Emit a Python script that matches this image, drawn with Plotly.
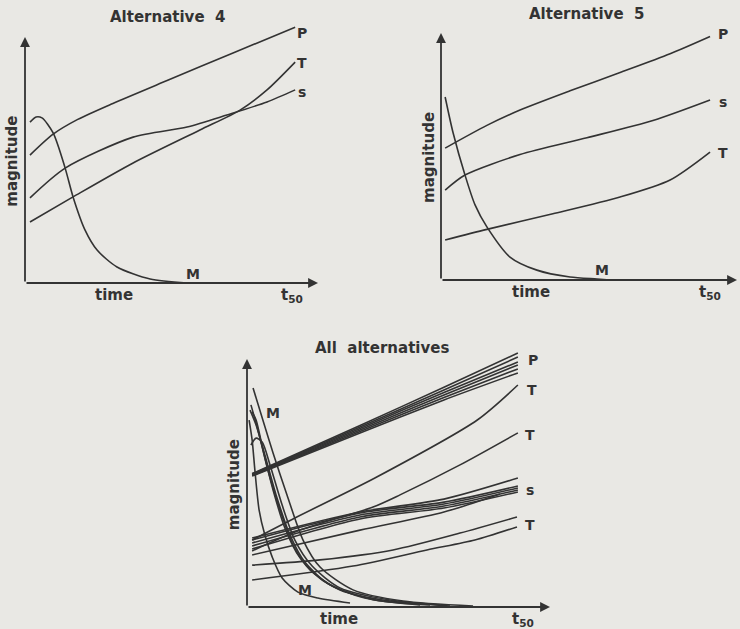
import plotly.graph_objects as go

W, H = 740, 629
INK = "#333333"
BG = "#e9e8e4"
FONT = "DejaVu Sans"

# ---- values (time on x, magnitude on y, arrow tips = 100) ----

# Alternative 4
alt4_P_x = [1.7, 9.6, 18.0, 30.0, 48.5, 71.0, 92.2]
alt4_P_y = [52.0, 60.5, 66.5, 73.0, 82.3, 93.5, 104.0]
alt4_s_x = [1.7, 13.7, 36.9, 55.3, 68.9, 82.6, 92.2]
alt4_s_y = [34.6, 46.7, 59.3, 63.4, 68.3, 73.6, 78.5]
alt4_T_x = [1.7, 16.4, 36.9, 59.7, 73.4, 82.6, 92.2]
alt4_T_y = [24.8, 35.0, 48.8, 62.2, 70.3, 78.5, 89.8]
alt4_M_x = [1.7, 3.8, 5.8, 9.6, 13.7, 16.4, 20.5, 24.6, 31.4, 42.7, 55.3]
alt4_M_y = [65.4, 67.5, 67.1, 61.0, 46.7, 35.0, 21.5, 13.4, 6.5, 1.6, 0.0]

# Alternative 5
alt5_P_x = [1.4, 15.5, 26.7, 43.6, 60.5, 77.4, 90.9]
alt5_P_y = [53.4, 62.6, 68.8, 76.6, 84.0, 91.6, 98.6]
alt5_s_x = [1.4, 8.1, 26.7, 49.3, 71.6, 90.9]
alt5_s_y = [36.4, 42.5, 50.8, 57.6, 64.6, 72.9]
alt5_T_x = [1.4, 15.5, 37.8, 60.5, 77.4, 90.9]
alt5_T_y = [16.2, 20.5, 26.8, 33.6, 40.5, 51.8]
alt5_M_x = [1.4, 4.1, 8.1, 11.5, 15.5, 23.3, 32.4, 43.6, 52.7, 57.1]
alt5_M_y = [74.1, 59.5, 42.5, 30.4, 21.5, 9.3, 4.0, 1.2, 0.4, 0.0]

# All alternatives
all_P_x = [1.7, 37.3, 65.0, 89.4]
all_P_y = [
    [53.8, 73.2, 88.6, 102.4],
    [53.6, 72.6, 87.5, 100.8],
    [53.4, 72.0, 86.5, 98.8],
    [53.2, 71.4, 85.5, 97.6],
    [53.0, 70.8, 84.5, 96.0],
    [52.8, 70.2, 83.5, 94.4],
]
all_s_x = [1.7, 37.3, 65.0, 89.4]
all_s_y = [
    [27.8, 38.3, 43.5, 52.0],
    [27.0, 37.9, 42.3, 48.8],
    [25.8, 37.1, 41.5, 48.0],
    [24.6, 36.3, 40.7, 47.2],
    [23.4, 35.5, 39.9, 46.4],
]
all_s_low_x = [1.7, 37.3, 65.0, 83.5]
all_s_low_y = [21.0, 31.0, 38.3, 45.6]
all_T1_x = [1.7, 15.8, 42.2, 76.0, 89.4]
all_T1_y = [27.0, 35.9, 52.0, 75.4, 89.5]
all_T2_x = [1.7, 17.5, 41.6, 50.5, 70.3, 89.4]
all_T2_y = [22.6, 31.0, 40.3, 45.2, 57.3, 70.2]
all_T3_x = [1.7, 24.1, 48.2, 70.3, 89.1]
all_T3_y = [16.9, 19.0, 23.0, 29.8, 36.3]
all_T4_x = [1.7, 35.0, 59.4, 75.2, 89.1]
all_T4_y = [10.9, 16.5, 23.0, 27.0, 32.3]
all_M = [
    ([2.0, 8.6, 13.2, 18.5, 24.1, 35.0, 51.5, 74.6],
     [88.3, 62.1, 45.2, 27.0, 16.1, 6.9, 2.4, 0.4]),
    ([1.3, 3.6, 6.9, 10.9, 15.2, 20.8, 30.7, 47.2, 67.0],
     [81.5, 71.4, 55.2, 39.1, 25.0, 14.9, 6.9, 2.4, 0.4]),
    ([1.0, 3.0, 5.9, 9.6, 14.2, 19.1, 27.4, 42.2, 60.4],
     [79.4, 73.4, 61.3, 45.2, 29.0, 18.1, 8.9, 2.8, 0.8]),
    ([1.3, 3.0, 5.0, 7.6, 11.6, 15.8, 21.5, 30.7, 47.2, 63.7],
     [65.3, 68.1, 66.5, 57.3, 41.1, 27.0, 16.5, 7.7, 2.8, 0.8]),
    ([1.7, 3.0, 5.3, 8.6, 12.5, 17.5, 25.7, 38.9, 57.1],
     [78.6, 75.4, 63.3, 47.2, 31.9, 19.8, 10.1, 3.6, 0.8]),
    ([0.7, 1.7, 2.6, 4.0, 5.9, 8.3, 11.6, 16.8, 23.4, 34.0],
     [75.4, 67.3, 55.2, 39.1, 29.0, 20.2, 11.7, 6.0, 3.6, 1.6]),
]

titles = ["Alternative\u00a0\u00a04", "Alternative\u00a0\u00a05", "All\u00a0\u00a0alternatives"]

curves = [
    [(alt4_P_x, alt4_P_y), (alt4_s_x, alt4_s_y), (alt4_T_x, alt4_T_y), (alt4_M_x, alt4_M_y)],
    [(alt5_P_x, alt5_P_y), (alt5_s_x, alt5_s_y), (alt5_T_x, alt5_T_y), (alt5_M_x, alt5_M_y)],
    [(all_P_x, y) for y in all_P_y]
    + [(all_s_x, y) for y in all_s_y]
    + [(all_s_low_x, all_s_low_y), (all_T1_x, all_T1_y), (all_T2_x, all_T2_y),
       (all_T3_x, all_T3_y), (all_T4_x, all_T4_y)]
    + all_M,
]

# curve end labels: (text, x, y) in each panel's data units
labels = [
    [("P", 94.5, 101.6), ("T", 94.5, 89.4), ("s", 94.5, 77.6), ("M", 57.3, 3.6)],
    [("P", 95.3, 99.6), ("s", 95.3, 72.1), ("T", 95.3, 51.4), ("M", 54.4, 4.0)],
    [("P", 94.4, 99.6), ("T", 94.1, 87.5), ("T", 93.4, 69.4), ("s", 93.4, 47.2),
     ("T", 93.4, 33.1), ("M", 8.6, 78.2), ("M", 19.1, 6.9)],
]

# panel geometry in pixels: axis origin, px per unit, plotting box
panels = [
    dict(ox=25, oy=283, sx=2.93, sy=2.46, L=8, R=335, T=6, B=300, title_xy=(48.5, 108.0)),
    dict(ox=441, oy=280, sx=2.96, sy=2.47, L=424, R=740, T=4, B=300, title_xy=(49.3, 107.7)),
    dict(ox=247, oy=607, sx=3.03, sy=2.48, L=228, R=565, T=338, B=626, title_xy=(44.6, 104.4)),
]

fig = go.Figure()
layout = {}
annotations = []
txt_font = dict(family=FONT, size=15, color=INK, weight="bold")

for i, p in enumerate(panels):
    n = "" if i == 0 else str(i + 1)
    xr, yr = "x" + n, "y" + n
    layout["xaxis" + n] = dict(
        domain=[p["L"] / W, p["R"] / W],
        range=[(p["L"] - p["ox"]) / p["sx"], (p["R"] - p["ox"]) / p["sx"]],
        anchor=yr, visible=False, fixedrange=True,
    )
    layout["yaxis" + n] = dict(
        domain=[1 - p["B"] / H, 1 - p["T"] / H],
        range=[(p["oy"] - p["B"]) / p["sy"], (p["oy"] - p["T"]) / p["sy"]],
        anchor=xr, visible=False, fixedrange=True,
    )

    for cx, cy in curves[i]:
        fig.add_trace(go.Scatter(
            x=cx, y=cy, mode="lines", xaxis=xr, yaxis=yr,
            line=dict(color=INK, width=1.6, shape="spline", smoothing=0.75),
            hoverinfo="skip", showlegend=False,
        ))

    # axes drawn as arrows
    for hx, hy in [(0, 100), (100, 0)]:
        annotations.append(dict(
            x=hx, y=hy, ax=0, ay=0, xref=xr, yref=yr, axref=xr, ayref=yr,
            text="", showarrow=True, arrowhead=2, arrowsize=1.1,
            arrowwidth=1.8, arrowcolor=INK,
        ))

    for txt, lx, ly in labels[i]:
        annotations.append(dict(
            x=lx, y=ly, xref=xr, yref=yr, text=txt, showarrow=False,
            font=dict(txt_font, size=14),
        ))

    tx, ty = p["title_xy"]
    annotations += [
        dict(x=tx, y=ty, xref=xr, yref=yr, text=titles[i], showarrow=False, font=txt_font),
        dict(x=30.5, y=-5.0, xref=xr, yref=yr, text="time", showarrow=False, font=txt_font),
        dict(x=91.0, y=-5.0, xref=xr, yref=yr, text="t<sub>50</sub>", showarrow=False,
             font=txt_font),
        dict(x=-4.3, y=49.5, xref=xr, yref=yr, text="magnitude", showarrow=False,
             textangle=-90, font=txt_font),
    ]

fig.update_layout(
    width=W, height=H,
    margin=dict(l=0, r=0, t=0, b=0),
    paper_bgcolor=BG, plot_bgcolor="rgba(0,0,0,0)",
    annotations=annotations,
    **layout,
)

# the page's default body margin would shift the figure by 8px
fig.write_html("out.html", config={"displayModeBar": False},
               post_script="document.body.style.margin='0';")
